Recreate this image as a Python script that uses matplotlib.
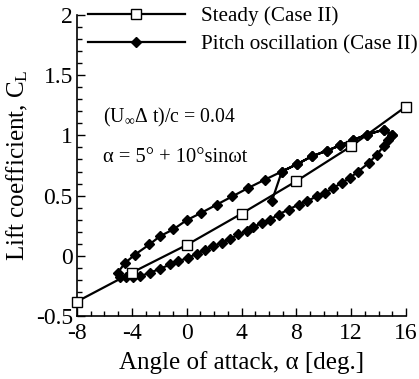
import matplotlib
matplotlib.use("Agg")
import matplotlib.pyplot as plt
from matplotlib.ticker import MultipleLocator

plt.rcParams['font.family'] = ['Liberation Serif', 'DejaVu Serif']
plt.rcParams['mathtext.fontset'] = 'custom'
plt.rcParams['mathtext.rm'] = 'Liberation Serif'
plt.rcParams['mathtext.it'] = 'Liberation Serif:italic'
plt.rcParams['axes.unicode_minus'] = False

steady_alpha = [-8, -4, 0, 4, 8, 12, 16]
steady_cl = [-0.38, -0.14, 0.09, 0.35, 0.62, 0.91, 1.24]

# transient start
start_alpha = [6.21]
start_cl = [0.453]
# upstroke (upper branch)
up_alpha = [-5.03, -4.5, -3.77, -2.72, -1.94, -0.97, 0.0, 1.05, 2.19, 3.34, 4.5, 5.72,
            6.94, 8.03, 9.13, 10.22, 11.2, 12.17, 13.14, 14.36, 14.97]
up_cl = [-0.14, -0.06, 0.01, 0.094, 0.163, 0.22, 0.296, 0.356, 0.425, 0.494, 0.564, 0.633,
         0.70, 0.76, 0.826, 0.873, 0.917, 0.964, 1.006, 1.047, 1.006]
# downstroke (lower branch)
down_alpha = [14.7, 14.36, 13.87, 13.27, 12.5, 11.9, 11.3, 10.7, 10.1, 9.5, 8.76, 8.16,
              7.43, 6.70, 6.09, 5.48, 4.87, 4.38, 3.78, 3.17, 2.56, 1.95, 1.34, 0.73,
              0.13, -0.60, -1.21, -1.94, -2.67, -3.40, -3.89, -4.42, -4.86]
down_cl = [0.964, 0.909, 0.84, 0.77, 0.70, 0.646, 0.605, 0.564, 0.522, 0.494, 0.453, 0.425,
           0.384, 0.343, 0.30, 0.274, 0.238, 0.204, 0.177, 0.14, 0.108, 0.08, 0.047, 0.019,
           -0.017, -0.044, -0.072, -0.108, -0.14, -0.17, -0.18, -0.18, -0.18]

# full time history: start -> upper (from ~7) -> lower -> upper again
i0 = 12
pitch_alpha = start_alpha + up_alpha[i0:] + down_alpha + up_alpha
pitch_cl = start_cl + up_cl[i0:] + down_cl + up_cl

fig = plt.figure(figsize=(4.19, 3.79), dpi=100)
ax = fig.add_axes([77/419, 1-316/379, (406-77)/419, (316-15)/379])

ax.plot(steady_alpha, steady_cl, color='black', lw=1.6, marker='s', ms=7,
        mfc='white', mec='black', mew=1.0, label='Steady (Case II)', zorder=3,
        clip_on=False)
ax.plot(pitch_alpha, pitch_cl, color='black', lw=1.6, marker='D', ms=5.5,
        mfc='black', mec='black', label='Pitch oscillation (Case II)', zorder=2,
        clip_on=False)

ax.set_xlim(-8, 16)
ax.set_ylim(-0.5, 2)
ax.xaxis.set_minor_locator(MultipleLocator(1))
ax.yaxis.set_minor_locator(MultipleLocator(0.1))
ax.set_yticks([-0.5, 0, 0.5, 1, 1.5, 2])
ax.set_yticklabels(['-0.5', '0', '0.5', '1', '1.5', '2'])
ax.set_xticks([-8, -4, 0, 4, 8, 12, 16])
ax.set_xticklabels(['-8', '-4', '0', '4', '8', '12', '16'])

ax.tick_params(which='both', direction='in', top=False, right=False, labelsize=17, width=1.0)
ax.tick_params(which='major', length=6)
ax.tick_params(axis='x', which='major', pad=5)
ax.tick_params(axis='y', which='major', pad=3)
ax.tick_params(which='minor', length=3.5)
ax.spines['top'].set_visible(False)
ax.spines['right'].set_visible(False)
for s in ['left', 'bottom']:
    ax.spines[s].set_linewidth(1.2)

ax.set_xlabel('Angle of attack, α [deg.]', fontsize=18, labelpad=5)
ax.set_ylabel('Lift coefficient, C$_\\mathrm{L}$', fontsize=18, labelpad=4)

ax.text(0.078, 0.658, '(U$_\\infty$Δ t)/c = 0.04', transform=ax.transAxes, fontsize=14.2,
        va='center', ha='left')
ax.text(0.078, 0.525, 'α = 5° + 10°sinωt', transform=ax.transAxes, fontsize=14.8,
        va='center', ha='left')

leg = ax.legend(loc='upper left', bbox_to_anchor=(0.033, 1.028), frameon=False, fontsize=15.2,
                handlelength=4.6, handletextpad=0.75, labelspacing=0.4, borderaxespad=0,
                borderpad=0)

fig.savefig('out.png', dpi=100)
